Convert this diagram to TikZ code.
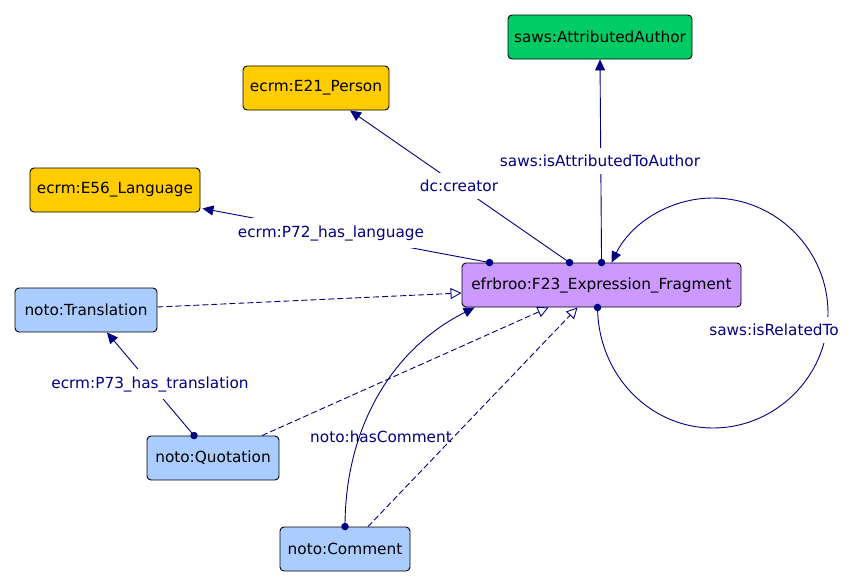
\documentclass[tikz,border=0pt]{standalone}
\usepackage{fontspec}
\setmainfont{DejaVu Sans}
\usetikzlibrary{arrows.meta}
\definecolor{edgeblue}{HTML}{000080}
\definecolor{yel}{HTML}{FFCC00}
\definecolor{grn}{HTML}{00CC66}
\definecolor{pur}{HTML}{CC99FF}
\definecolor{lblue}{HTML}{AACCFF}
\tikzset{
  cls/.style={draw=black, line width=0.9pt, rounded corners=4pt, minimum height=44pt, inner sep=0pt,
    font=\fontsize{15.3}{18}\selectfont, text=black},
  rel/.style={draw=edgeblue, line width=0.9pt, -{Triangle[length=11pt,width=10pt]}, shorten <=-0pt},
  sub/.style={draw=edgeblue, line width=0.9pt, dash pattern=on 6pt off 3pt, -{Triangle[open,length=11pt,width=11pt,fill=white]}},
  dotstart/.style={fill=edgeblue, circle, inner sep=0pt, minimum size=7.5pt},
  lbl/.style={text=edgeblue, fill=white, inner xsep=3pt, inner ysep=7pt, font=\fontsize{15.3}{18}\selectfont},
  lblnofill/.style={text=edgeblue, inner sep=1pt, font=\fontsize{15.3}{18}\selectfont}
}
\begin{document}
\begin{tikzpicture}[x=1pt,y=-1pt]
\useasboundingbox (0,0) rectangle (859,587);
% classes
\node[cls, fill=grn, minimum width=184pt] (AA) at (600,37) {saws:AttributedAuthor};
\node[cls, fill=yel, minimum width=146pt] (E21) at (316,88) {ecrm:E21\_Person};
\node[cls, fill=yel, minimum width=170pt] (E56) at (115,190) {ecrm:E56\_Language};
\node[cls, fill=lblue, minimum width=142pt] (TR) at (86,310) {noto:Translation};
\node[cls, fill=pur, minimum width=279pt] (F23) at (601.5,285) {efrbroo:F23\_Expression\_Fragment};
\node[cls, fill=lblue, minimum width=132pt] (QU) at (213,458) {noto:Quotation};
\node[cls, fill=lblue, minimum width=130pt] (CO) at (345,549) {noto:Comment};
% anchor points
\coordinate (fLang) at ([xshift=28pt]F23.north west);
\coordinate (fCre) at ([xshift=108pt]F23.north west);
\coordinate (fAut) at ([xshift=140pt]F23.north west);
\coordinate (fLoopEnd) at ([xshift=150pt]F23.north west);
\coordinate (fCom) at ([xshift=13pt]F23.south west);
\coordinate (fQuS) at ([xshift=87pt]F23.south west);
\coordinate (fCoS) at ([xshift=116pt]F23.south west);
\coordinate (fLoop) at ([xshift=136pt]F23.south west);
\coordinate (fTrS) at ([yshift=-8pt]F23.west);
\coordinate (e21t) at ([xshift=34pt]E21.south);
\coordinate (e56t) at ([xshift=2pt,yshift=4pt]E56.south east);
\coordinate (trt) at ([xshift=21pt]TR.south);
\coordinate (trs) at ([yshift=3pt]TR.east);
\coordinate (qut) at ([xshift=-19pt]QU.north);
\coordinate (qus) at ([xshift=49pt]QU.north);
\coordinate (cot) at (CO.north);
\coordinate (cos) at ([xshift=23pt]CO.north);
% subclass (dashed) edges
\draw[sub] (trs) -- (fTrS);
\draw[sub] (qus) -- (fQuS);
\draw[sub] (cos) -- (fCoS);
% object properties
\draw[rel] (fAut) -- (AA.south);
\draw[rel] (fCre) -- (e21t);
\draw[rel] (fLang) -- (e56t);
\draw[rel] (qut) -- (trt);
\draw[rel] (cot) .. controls (345,430) and (390,350) .. (fCom);
\draw[rel] (fLoop) .. controls (598,375) and (650,428) .. (713,428)
  .. controls (776,428) and (828,376) .. (828,313)
  .. controls (828,250) and (776,198) .. (713,198)
  .. controls (670,198) and (631,223) .. (fLoopEnd);
% start dots
\foreach \p in {fAut,fCre,fLang,qut,cot,fLoop} \node[dotstart] at (\p) {};
% labels
\node[lbl] (lAut) at (600,161) {saws:isAttributedToAuthor};
\node[lbl] (lCre) at (459,186) {dc:creator};
\node[lbl] (lLang) at (331,233) {ecrm:P72\_has\_language};
\node[lbl] (lTr) at (150,384) {ecrm:P73\_has\_translation};
\node[lbl] (lRel) at (774,330) {saws:isRelatedTo};
\node[lblnofill] (lCom) at (381,437) {noto:hasComment};
\end{tikzpicture}
\end{document}
